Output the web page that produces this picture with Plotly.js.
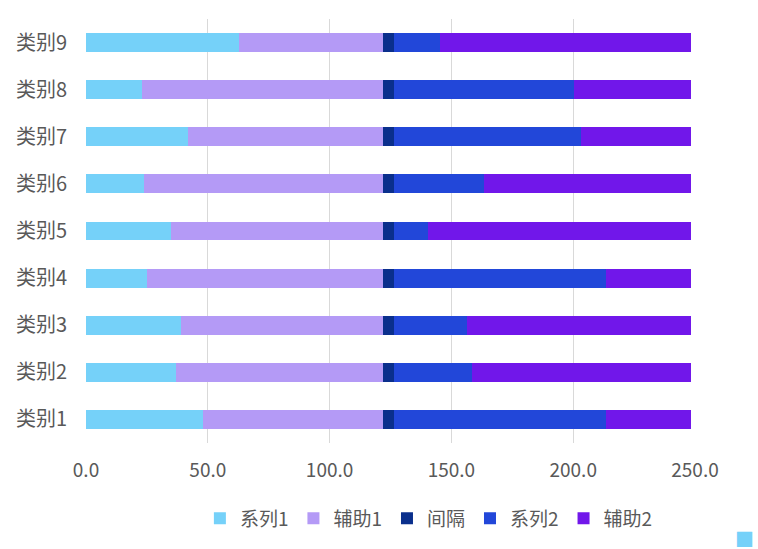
<!DOCTYPE html>
<html>
<head>
<meta charset="utf-8">
<script src="https://cdn.plot.ly/plotly-3.0.1.min.js"></script>
<style>
  html, body { margin: 0; padding: 0; background: #fff; overflow: hidden; }
  #plot { width: 758px; height: 549px; }
</style>
</head>
<body>
<div id="plot"></div>
<script>
// categories, bottom to top
var categories = ["类别1", "类别2", "类别3", "类别4", "类别5", "类别6", "类别7", "类别8", "类别9"];

// values
var series1 = [48, 37, 39, 25, 35, 24, 42, 23, 63];
var aux1    = [74, 85, 83, 97, 87, 98, 80, 99, 59];
var spacer  = [4.3, 4.3, 4.3, 4.3, 4.3, 4.3, 4.3, 4.3, 4.3];
var series2 = [87, 32, 30, 87, 14, 37, 77, 74, 19];
var aux2    = [35, 90, 92, 35, 108, 85, 45, 48, 103];

var xTicks = [0, 50, 100, 150, 200, 250];
var xTickText = ["0.0", "50.0", "100.0", "150.0", "200.0", "250.0"];

var fontFam = '"Noto Sans CJK SC", "Noto Sans", sans-serif';

function bar(name, vals, color) {
    return {
        type: 'bar',
        orientation: 'h',
        name: name,
        y: categories,
        x: vals,
        marker: { color: color, line: { width: 0 } },
        hoverinfo: 'x+name'
    };
}

var data = [
    bar("系列1", series1, "#75D1F9"),
    bar("辅助1", aux1, "#B49AF6"),
    bar("间隔", spacer, "#0A2F8C"),
    bar("系列2", series2, "#2247D9"),
    bar("辅助2", aux2, "#7117EA")
];

var layout = {
    width: 758,
    height: 549,
    margin: { l: 86, r: 63, t: 19, b: 106 },
    paper_bgcolor: '#ffffff',
    plot_bgcolor: '#ffffff',
    barmode: 'stack',
    bargap: 0.6,
    font: { family: fontFam, color: '#595959', size: 19 },
    xaxis: {
        range: [0, 250],
        tickvals: xTicks,
        ticktext: xTickText,
        showgrid: true,
        gridcolor: '#D9D9D9',
        gridwidth: 1,
        zeroline: false,
        showline: false,
        ticks: '',
        ticklabelstandoff: 14,
        tickfont: { size: 19, color: '#595959' },
        fixedrange: true
    },
    yaxis: {
        type: 'category',
        showgrid: false,
        zeroline: false,
        showline: false,
        ticks: '',
        ticklabelstandoff: 18,
        tickfont: { size: 20, color: '#595959' },
        fixedrange: true
    },
    legend: {
        orientation: 'h',
        x: 0.187,
        xanchor: 'left',
        y: -0.178,
        yanchor: 'middle',
        font: { size: 19, color: '#595959' },
        traceorder: 'normal',
        itemwidth: 30
    },
    annotations: [{
        xref: 'paper', yref: 'paper',
        x: 1.062, y: -0.226,
        xanchor: 'left', yanchor: 'middle',
        showarrow: false,
        text: '<span style="color:#75D1F9">■</span> 系',
        font: { size: 19, color: '#595959' }
    }],
    showlegend: true
};

Plotly.newPlot('plot', data, layout, { displayModeBar: false, staticPlot: true });
</script>
</body>
</html>
